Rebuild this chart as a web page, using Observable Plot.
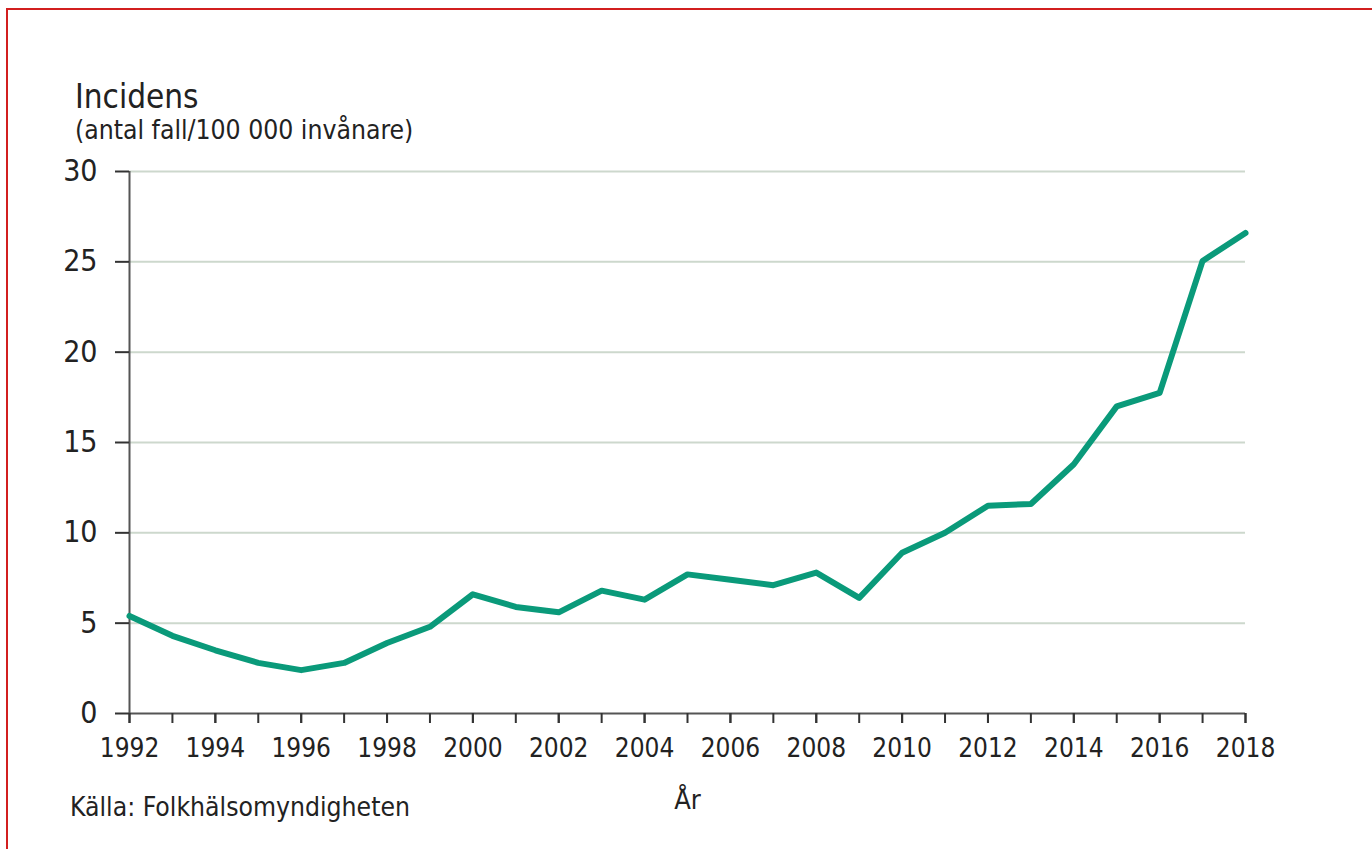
<!DOCTYPE html>
<html>
<head>
<meta charset="utf-8">
<script src="https://cdn.jsdelivr.net/npm/d3@7"></script>
<script src="https://cdn.jsdelivr.net/npm/@observablehq/plot@0.6"></script>
<style>
  html, body { margin: 0; padding: 0; background: #fff; }
  body { width: 1372px; height: 849px; position: relative; overflow: hidden;
         font-family: "DejaVu Sans Condensed", "DejaVu Sans", "Liberation Sans", sans-serif; color: #222; }
  #frame { position: absolute; left: 6px; top: 8px; width: 1366px; height: 841px;
           border-top: 2px solid #d21f1f; border-left: 2px solid #d21f1f; box-sizing: border-box; }
  #title { position: absolute; left: 75px; top: 80px; font-size: 33px; line-height: 33px; white-space: nowrap; }
  #subtitle { position: absolute; left: 75px; top: 117px; font-size: 26.3px; line-height: 27px; white-space: nowrap; }
  #chart { position: absolute; left: 0; top: 150px; }
  #caption { position: absolute; left: 70px; top: 794px; font-size: 26.3px; line-height: 27px; white-space: nowrap; }
</style>
</head>
<body>
<div id="frame"></div>
<div id="title">Incidens</div>
<div id="subtitle">(antal fall/100 000 invånare)</div>
<div id="chart"></div>
<div id="caption">Källa: Folkhälsomyndigheten</div>
<script>
const years = [1992, 1993, 1994, 1995, 1996, 1997, 1998, 1999, 2000, 2001, 2002, 2003, 2004, 2005,
               2006, 2007, 2008, 2009, 2010, 2011, 2012, 2013, 2014, 2015, 2016, 2017, 2018];
const incidence = [5.4, 4.3, 3.5, 2.8, 2.4, 2.8, 3.9, 4.8, 6.6, 5.9, 5.6, 6.8, 6.3, 7.7,
                   7.4, 7.1, 7.8, 6.4, 8.9, 10.0, 11.5, 11.6, 13.8, 17.0, 17.75, 25.05, 26.6];
const xTickLabels = [1992, 1994, 1996, 1998, 2000, 2002, 2004, 2006, 2008, 2010, 2012, 2014, 2016, 2018];
const yTicks = [0, 5, 10, 15, 20, 25, 30];
const xAxisLabel = "År";

const data = years.map((year, i) => ({year, value: incidence[i]}));

const chart = Plot.plot({
  width: 1372,
  height: 665,
  marginLeft: 129,
  marginRight: 127,
  marginTop: 21,
  marginBottom: 102,
  style: {fontFamily: '"DejaVu Sans Condensed", "DejaVu Sans", "Liberation Sans", sans-serif', color: "#222", background: "transparent", overflow: "visible"},
  x: {domain: [years[0], years[years.length - 1]], label: null},
  y: {domain: [yTicks[0], yTicks[yTicks.length - 1]], label: null},
  marks: [
    Plot.gridY(yTicks.filter(d => d > 0), {stroke: "#cdd8cd", strokeOpacity: 1, strokeWidth: 2}),
    Plot.ruleX([years[0]], {stroke: "#555", strokeWidth: 2}),
    Plot.ruleY([0], {stroke: "#555", strokeWidth: 2}),
    Plot.axisY(yTicks, {tickSize: 14, tickPadding: 18, fontSize: 30, stroke: "#333", strokeWidth: 2, tickFormat: d => String(d), label: null}),
    Plot.axisX(years, {tickSize: 10, stroke: "#333", strokeWidth: 2, tickFormat: () => "", label: null}),
    Plot.axisX(xTickLabels, {tickSize: 10, tickPadding: 15, fontSize: 26, stroke: "#333", strokeWidth: 2, tickFormat: d => String(d), label: null}),
    Plot.text([xAxisLabel], {frameAnchor: "bottom", lineAnchor: "bottom", dy: 95, fontSize: 27, fill: "#222"}),
    Plot.line(data, {x: "year", y: "value", stroke: "#0a9a7a", strokeWidth: 6, strokeLinejoin: "round", strokeLinecap: "round"})
  ]
});
document.getElementById("chart").appendChild(chart);
</script>
</body>
</html>
